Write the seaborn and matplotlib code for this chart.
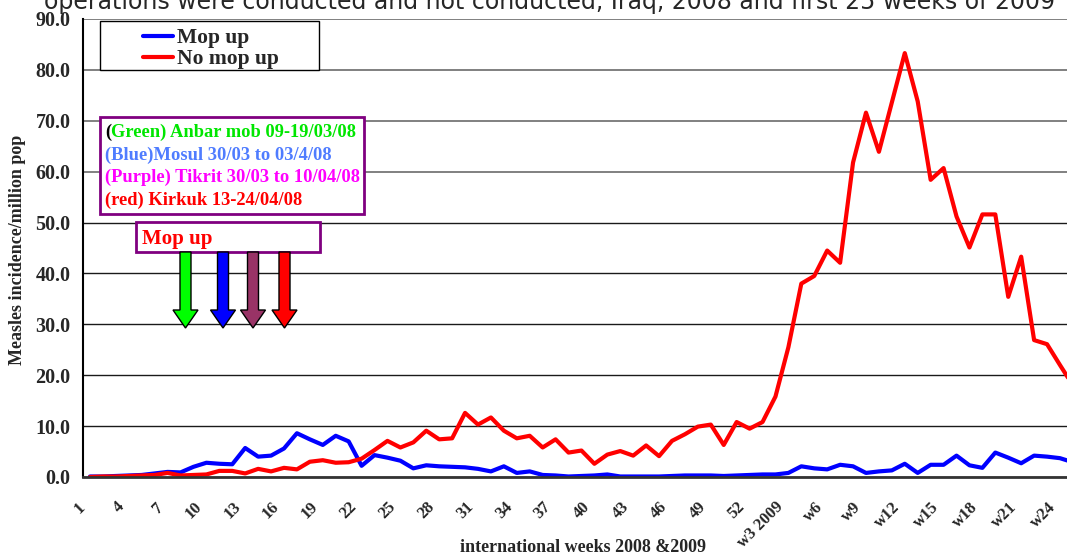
import matplotlib
matplotlib.use("Agg")
import matplotlib.pyplot as plt
from matplotlib.lines import Line2D
from matplotlib.patches import Polygon, Rectangle
from matplotlib.transforms import Affine2D
import pandas as pd
import seaborn as sns

# ---------------------------------------------------------------------------
# Data
# ---------------------------------------------------------------------------
weeks = [str(w) for w in range(1, 53)] + ["w%d" % w for w in range(1, 26)]

tick_labels = [str(w) for w in range(1, 53, 3)] + [
    "w3 2009", "w6", "w9", "w12", "w15", "w18", "w21", "w24",
]

mop_up = [
    0.1, 0.1, 0.2, 0.3, 0.4, 0.7, 1.0, 0.9, 2.0, 2.8, 2.6, 2.5, 5.7, 4.0, 4.2,
    5.6, 8.6, 7.4, 6.3, 8.1, 7.0, 2.2, 4.3, 3.8, 3.2, 1.7, 2.3, 2.1, 2.0, 1.9,
    1.6, 1.1, 2.1, 0.8, 1.1, 0.4, 0.3, 0.1, 0.2, 0.3, 0.5, 0.1, 0.1, 0.1, 0.1,
    0.2, 0.3, 0.3, 0.3, 0.2, 0.3, 0.4, 0.5, 0.5, 0.8, 2.1, 1.7, 1.5, 2.4, 2.1,
    0.8, 1.1, 1.3, 2.6, 0.8, 2.4, 2.4, 4.2, 2.3, 1.8, 4.8, 3.8, 2.7, 4.2, 4.0,
    3.7, 2.9,
]

no_mop_up = [
    0.0, 0.1, 0.1, 0.2, 0.3, 0.4, 0.8, 0.3, 0.4, 0.5, 1.2, 1.2, 0.7, 1.6, 1.1,
    1.8, 1.5, 3.0, 3.3, 2.8, 2.9, 3.6, 5.3, 7.1, 5.8, 6.8, 9.1, 7.4, 7.6, 12.6,
    10.3, 11.7, 9.1, 7.6, 8.1, 5.8, 7.4, 4.8, 5.2, 2.6, 4.4, 5.1, 4.2, 6.2, 4.1,
    7.1, 8.4, 9.9, 10.3, 6.3, 10.8, 9.5, 10.8, 15.8, 25.5, 38.0, 39.5, 44.5, 42.1, 61.8,
    71.6, 63.9, 73.6, 83.3, 73.8, 58.4, 60.7, 51.2, 45.1, 51.6, 51.6, 35.4, 43.3, 26.9, 26.1,
    22.0, 18.0,
]

series_names = ["Mop up", "No mop up"]
palette = {"Mop up": "#0000ff", "No mop up": "#ff0000"}

campaign_lines = [
    "(Green) Anbar mob 09-19/03/08",
    "(Blue)Mosul 30/03 to 03/4/08",
    "(Purple) Tikrit 30/03 to 10/04/08",
    "(red) Kirkuk 13-24/04/08",
]
campaign_colors = ["#00e600", "#4f7cff", "#ff00ff", "#ff0000"]
arrow_colors = ["#00ff00", "#0000ff", "#993366", "#ff0000"]

df = pd.DataFrame({
    "week": list(range(len(weeks))) * 2,
    "incidence": mop_up + no_mop_up,
    "series": [series_names[0]] * len(weeks) + [series_names[1]] * len(weeks),
})

# ---------------------------------------------------------------------------
# Figure
# ---------------------------------------------------------------------------
sns.set_style("white")
plt.rcParams["font.family"] = ["Liberation Serif", "DejaVu Serif"]
plt.rcParams["font.weight"] = "bold"

W, H, DPI = 1067, 557, 100
fig = plt.figure(figsize=(W / DPI, H / DPI), dpi=DPI)
# pixel coordinates with the origin at the top-left corner
px = Affine2D().scale(1 / DPI, -1 / DPI).translate(0, H / DPI) + fig.dpi_scale_trans

# plot area: left edge at x=83, 0 at y=477, 90 at y=19; it runs past the right edge
left, bottom, top = 83, 477, 19
cat_w = 12.94
ax = fig.add_axes([left / W, (H - bottom) / H,
                   cat_w * len(weeks) / W, (bottom - top) / H])

sns.lineplot(data=df, x="week", y="incidence", hue="series",
             hue_order=series_names, palette=palette, linewidth=3,
             legend=False, ax=ax)

ax.set_xlim(-0.5, len(weeks) - 0.5)
ax.set_ylim(0, 90)

# y axis
ax.set_yticks(range(0, 91, 10))
ax.set_yticklabels([f"{v:.1f}" for v in range(0, 91, 10)],
                   fontsize=14.5, fontweight="bold")
ax.tick_params(axis="y", direction="out", length=6, width=1, color="black", pad=3)
ax.grid(axis="y", color="#1a1a1a", linewidth=1)
for val, gl in zip(range(0, 91, 10), ax.get_ygridlines()):
    if val >= 60:
        gl.set_color("#808080")
        gl.set_linewidth(1.4)

# x axis: marks between categories, labels every third week
ax.set_xticks([i - 0.5 for i in range(len(weeks) + 1)])
ax.set_xticklabels([])
ax.tick_params(axis="x", which="major", direction="out", length=5,
               width=1, color="#333333")
# labels sit a little left of the category centre, as in the original
lbl_shift = 7 / cat_w
ax.set_xticks([i - lbl_shift for i in range(0, len(weeks), 3)], tick_labels,
              minor=True)
ax.tick_params(axis="x", which="minor", length=0, pad=20)
for lbl in ax.get_xticklabels(minor=True):
    lbl.set_rotation(45)
    lbl.set_ha("right")
    lbl.set_va("center")
    lbl.set_rotation_mode("anchor")
    lbl.set_fontsize(12)
    lbl.set_fontweight("bold")

ax.set_xlabel("")
ax.set_ylabel("")
for side in ["top", "right"]:
    ax.spines[side].set_visible(False)
ax.spines["left"].set_color("black")
ax.spines["left"].set_linewidth(1.5)
ax.spines["bottom"].set_color("#333333")
ax.spines["bottom"].set_linewidth(2)

fig.text(583, 548, "international weeks 2008 &2009", transform=px,
         ha="center", va="center", fontsize=13, fontweight="bold")
fig.text(18, 250, "Measles incidence/million pop", transform=px,
         ha="center", va="center", rotation=90, fontsize=13, fontweight="bold")

# title, cut off at the top of the picture
fig.text(549, 9, "operations were conducted and not conducted, Iraq, 2008 and "
         "first 25 weeks of 2009", transform=px, ha="center", va="baseline",
         fontsize=17, fontweight="normal", family="DejaVu Sans")

# legend box
fig.patches.append(Rectangle((100, 21), 219, 49, transform=px, fill=True,
                             facecolor="white", edgecolor="black", lw=1))
handles = [Line2D([], [], color=palette[s], lw=3) for s in series_names]
fig.legend(handles, series_names, loc="upper left",
           bbox_to_anchor=(143, 28), bbox_transform=px, frameon=False,
           borderpad=0, borderaxespad=0, handlelength=1.4, handletextpad=0.2,
           labelspacing=0.05, prop={"size": 15.5, "weight": "bold"})

# campaign box
fig.patches.append(Rectangle((100, 117), 264, 97, transform=px,
                             facecolor="white", edgecolor="#800080", lw=2))
renderer = fig.canvas.get_renderer()
for k, (txt, col) in enumerate(zip(campaign_lines, campaign_colors)):
    yy = 137 + k * 22.7
    if txt.startswith("(Green)"):
        t0 = fig.text(105, yy, "(", transform=px, va="baseline", fontsize=13.3,
                      fontweight="bold", color="black")
        x_end = t0.get_window_extent(renderer=renderer).x1 * 72 / fig.dpi
        fig.text(x_end / 72 * DPI, yy, txt[1:], transform=px, va="baseline",
                 fontsize=13.3, fontweight="bold", color=col)
    else:
        fig.text(105, yy, txt, transform=px, va="baseline", fontsize=13.3,
                 fontweight="bold", color=col)

# "Mop up" box and arrows
fig.patches.append(Rectangle((136, 222), 184, 30, transform=px,
                             facecolor="white", edgecolor="#800080", lw=2))
fig.text(142, 239, "Mop up", transform=px, va="center", fontsize=15,
         fontweight="bold", color="#ff0000")


def arrow(cx, col, top=252, head_top=310, tip=328, shaft=11, head=25):
    s, h = shaft / 2, head / 2
    pts = [(cx - s, top), (cx + s, top), (cx + s, head_top), (cx + h, head_top),
           (cx, tip), (cx - h, head_top), (cx - s, head_top)]
    fig.patches.append(Polygon(pts, closed=True, transform=px, facecolor=col,
                               edgecolor="black", lw=1))


for cx, col in zip([185.5, 223, 253, 284.5], arrow_colors):
    arrow(cx, col)

fig.savefig("out.png", dpi=DPI)
